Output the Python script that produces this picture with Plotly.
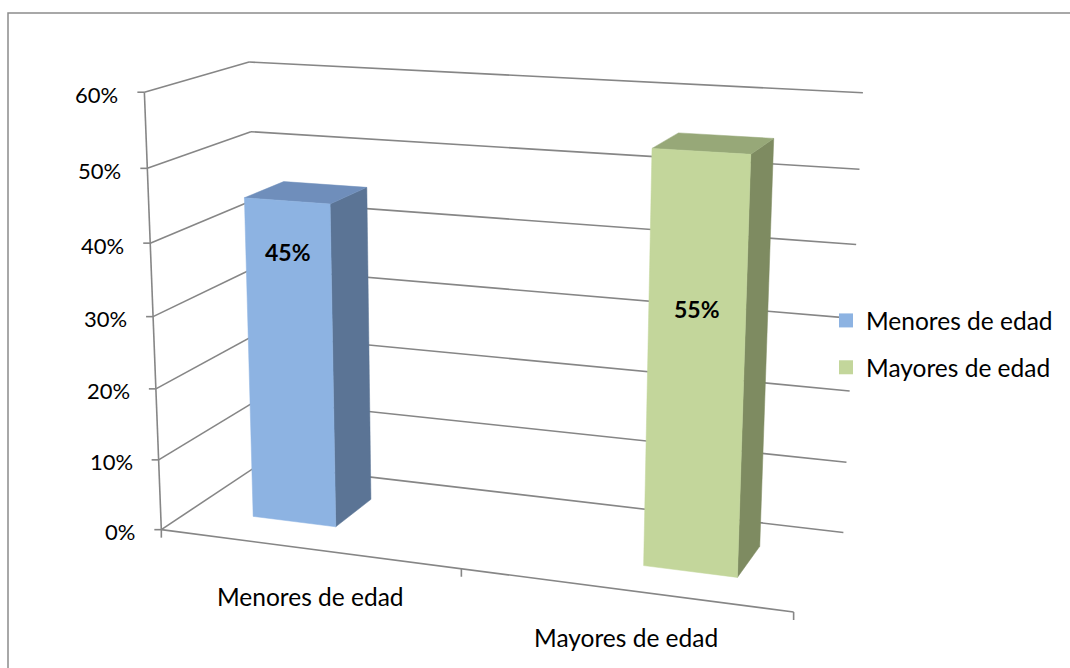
import numpy as np
import plotly.graph_objects as go

# ---------------- data ----------------
categories = ["Menores de edad", "Mayores de edad"]
series_names = ["Menores de edad", "Mayores de edad"]
values = [0.45, 0.55]
value_labels = ["45%", "55%"]
tick_values = [0.0, 0.1, 0.2, 0.3, 0.4, 0.5, 0.6]
tick_labels = ["0%", "10%", "20%", "30%", "40%", "50%", "60%"]

# ---------------- style ----------------
front_colors = ["#8DB3E2", "#C3D69B"]
side_colors = ["#5B7495", "#7E8B61"]
top_colors = ["#6F8EBB", "#97A878"]
label_frac = [0.846, 0.637]        # vertical position of data labels on the bar face
GRID = "#868686"
FONT = "Lato"
Y_MAX = 0.6
GAP_W = 1.5   # Excel gap width 150 %
GAP_D = 1.5   # Excel gap depth 150 %

# ---------------- 3-D projection (camera fitted to the plot box) ----------------
CAL_WORLD = [(0, 0, 1), (0, 0, 0), (0, 1, 1), (0, 1, 0), (1, 1, 1), (1, 1, 0),
             (1, 0, 0), (0.5, 0, 0), (0, 0, 5 / 6), (0, 1, 5 / 6), (0, 0, 1 / 6),
             (1, 1, 5 / 6), (1, 1, 4 / 6), (0, 0, 2 / 6)]
CAL_SCREEN = [(143.3, 93.3), (161.7, 529), (250, 61.7), (258, 466), (862.7, 93.3),
              (843.3, 530.7), (793.3, 613.3), (461.7, 570), (145.7, 168.3),
              (251.7, 131.7), (160, 459.3), (860, 169.3), (856, 244), (156.7, 386.7)]

Wc = np.array(CAL_WORLD, float)
Sc = np.array(CAL_SCREEN, float)
mu = Sc.mean(0)
sc = np.sqrt(2) / np.mean(np.linalg.norm(Sc - mu, axis=1))
T = np.array([[sc, 0, -sc * mu[0]], [0, sc, -sc * mu[1]], [0, 0, 1]])
Sn = (Sc - mu) * sc
rows = []
for X, (x, y) in zip(Wc, Sn):
    Xh = np.append(X, 1.0)
    rows.append(np.concatenate([Xh, np.zeros(4), -x * Xh]))
    rows.append(np.concatenate([np.zeros(4), Xh, -y * Xh]))
_, _, Vt = np.linalg.svd(np.array(rows))
P = np.linalg.inv(T) @ Vt[-1].reshape(3, 4)


def proj(u, v, w):
    h = P @ np.array([u, v, w, 1.0])
    return h[0] / h[2], h[1] / h[2]


def wv(val):
    return val / Y_MAX


fig = go.Figure()

# ---------------- walls / gridlines / axes ----------------
gx, gy = [], []


def seg(a, b):
    gx.extend([a[0], b[0], None])
    gy.extend([a[1], b[1], None])


for t in tick_values:
    w = wv(t)
    seg(proj(0, 0, w), proj(0, 1, w))
    seg(proj(0, 1, w), proj(1, 1, w))
    p = proj(0, 0, w)
    seg((p[0] - 7, p[1]), p)
seg(proj(0, 0, 0), proj(0, 0, 1))
seg(proj(0, 0, 0), proj(1, 0, 0))
for uc in [0, 0.5, 1.0]:
    p = proj(uc, 0, 0)
    seg(p, (p[0], p[1] + 8))

fig.add_trace(go.Scatter(x=gx, y=gy, mode="lines", line=dict(color=GRID, width=1.6),
                         hoverinfo="skip", showlegend=False))

# ---------------- bars ----------------
n_cat = len(categories)
n_ser = len(series_names)
cat_w = 1.0 / n_cat
bar_w = cat_w / (n_ser + GAP_W)
bar_d = 1.0 / (1 + GAP_D)
v0 = (1 - bar_d) / 2
v1 = v0 + bar_d


def face(pts, color):
    xs = [p[0] for p in pts] + [pts[0][0]]
    ys = [p[1] for p in pts] + [pts[0][1]]
    fig.add_trace(go.Scatter(x=xs, y=ys, mode="lines", fill="toself", fillcolor=color,
                             line=dict(color=color, width=0.5), hoverinfo="skip",
                             showlegend=False))


annotations = []
for i, val in enumerate(values):
    u0 = i * cat_w + (GAP_W / 2) * bar_w + i * bar_w
    u1 = u0 + bar_w
    h = wv(val)
    face([proj(u1, v0, 0), proj(u1, v1, 0), proj(u1, v1, h), proj(u1, v0, h)], side_colors[i])
    face([proj(u0, v0, h), proj(u1, v0, h), proj(u1, v1, h), proj(u0, v1, h)], top_colors[i])
    face([proj(u0, v0, 0), proj(u1, v0, 0), proj(u1, v0, h), proj(u0, v0, h)], front_colors[i])
    lx, ly = proj((u0 + u1) / 2, v0, h * label_frac[i])
    annotations.append(dict(x=lx, y=ly, text="<b>%s</b>" % value_labels[i], showarrow=False,
                            font=dict(family=FONT, size=23, color="black"),
                            xanchor="center", yanchor="middle"))

# legend entries
for i, name in enumerate(series_names):
    fig.add_trace(go.Scatter(x=[None], y=[None], mode="markers", name=name,
                             legendgroup="g%d" % i,
                             marker=dict(symbol="square", size=14, color=front_colors[i])))

# value axis labels
for t, lab in zip(tick_values, tick_labels):
    x, y = proj(0, 0, wv(t))
    annotations.append(dict(x=x - 24, y=y + 2, text=lab, showarrow=False,
                            font=dict(family=FONT, size=22, color="black"),
                            xanchor="right", yanchor="middle"))

# category labels
for i, cat in enumerate(categories):
    x, y = proj((i + 0.5) * cat_w, 0, 0)
    annotations.append(dict(x=x + 3, y=y + 48, text=cat, showarrow=False,
                            font=dict(family=FONT, size=24.5, color="black"),
                            xanchor="center", yanchor="middle"))

fig.update_layout(
    width=1070, height=668,
    margin=dict(l=0, r=0, t=0, b=0),
    paper_bgcolor="white", plot_bgcolor="white",
    xaxis=dict(range=[0, 1070], visible=False, fixedrange=True),
    yaxis=dict(range=[668, 0], visible=False, fixedrange=True),
    annotations=annotations,
    shapes=[dict(type="rect", xref="x", yref="y", x0=8, y0=13, x1=1090, y1=690,
                 line=dict(color="#8C8C8C", width=1.5), fillcolor="rgba(0,0,0,0)")],
    legend=dict(x=826 / 1070, y=1 - 298 / 668, xanchor="left", yanchor="top",
                font=dict(family=FONT, size=24.5, color="black"),
                bgcolor="rgba(0,0,0,0)", tracegroupgap=12, itemsizing="trace"),
    hovermode=False,
)

fig.write_html("out.html", config={"displayModeBar": False},
               post_script="document.body.style.margin='0';document.body.style.overflow='hidden';")
